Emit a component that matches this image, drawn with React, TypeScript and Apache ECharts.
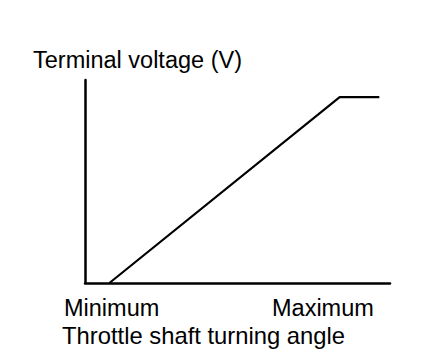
import React, { useEffect, useRef } from "react";
import * as echarts from "echarts";

const yTitle = "Terminal voltage (V)";
const xTitle = "Throttle shaft turning angle";
const xTickLabels = ["Minimum", "Maximum"];
const angle = [8, 83.5, 96.5];
const voltage = [0, 91.6, 91.6];

export default function App() {
  const ref = useRef<HTMLDivElement>(null);
  useEffect(() => {
    const chart = echarts.init(ref.current!, null, { renderer: "svg" });
    const font = "'Liberation Sans', Arial, sans-serif";
    chart.setOption({
      animation: false,
      backgroundColor: "#fff",
      grid: { left: 85, right: 58, top: 80, bottom: 75 },
      xAxis: {
        type: "value",
        min: 0,
        max: 100,
        axisLine: { show: true, lineStyle: { color: "#000", width: 2.5 } },
        axisTick: { show: false },
        axisLabel: { show: false },
        splitLine: { show: false },
      },
      yAxis: {
        type: "value",
        min: 0,
        max: 100,
        axisLine: { show: true, lineStyle: { color: "#000", width: 2.5 } },
        axisTick: { show: false },
        axisLabel: { show: false },
        splitLine: { show: false },
      },
      series: [
        {
          type: "line",
          data: angle.map((a, i) => [a, voltage[i]]),
          symbol: "none",
          lineStyle: { color: "#000", width: 2.2 },
        },
      ],
      graphic: [
        { type: "text", left: 33, top: 48, style: { text: yTitle, font: `23.5px ${font}`, fill: "#000" } },
        { type: "text", left: 64, top: 296, style: { text: xTickLabels[0], font: `23.5px ${font}`, fill: "#000" } },
        { type: "text", left: 272, top: 296, style: { text: xTickLabels[1], font: `23.5px ${font}`, fill: "#000" } },
        { type: "text", left: 62, top: 323, style: { text: xTitle, font: `23.8px ${font}`, fill: "#000" } },
      ],
    });
    return () => chart.dispose();
  }, []);
  return <div ref={ref} style={{ width: 448, height: 358, position: "absolute", left: 0, top: 0 }} />;
}
